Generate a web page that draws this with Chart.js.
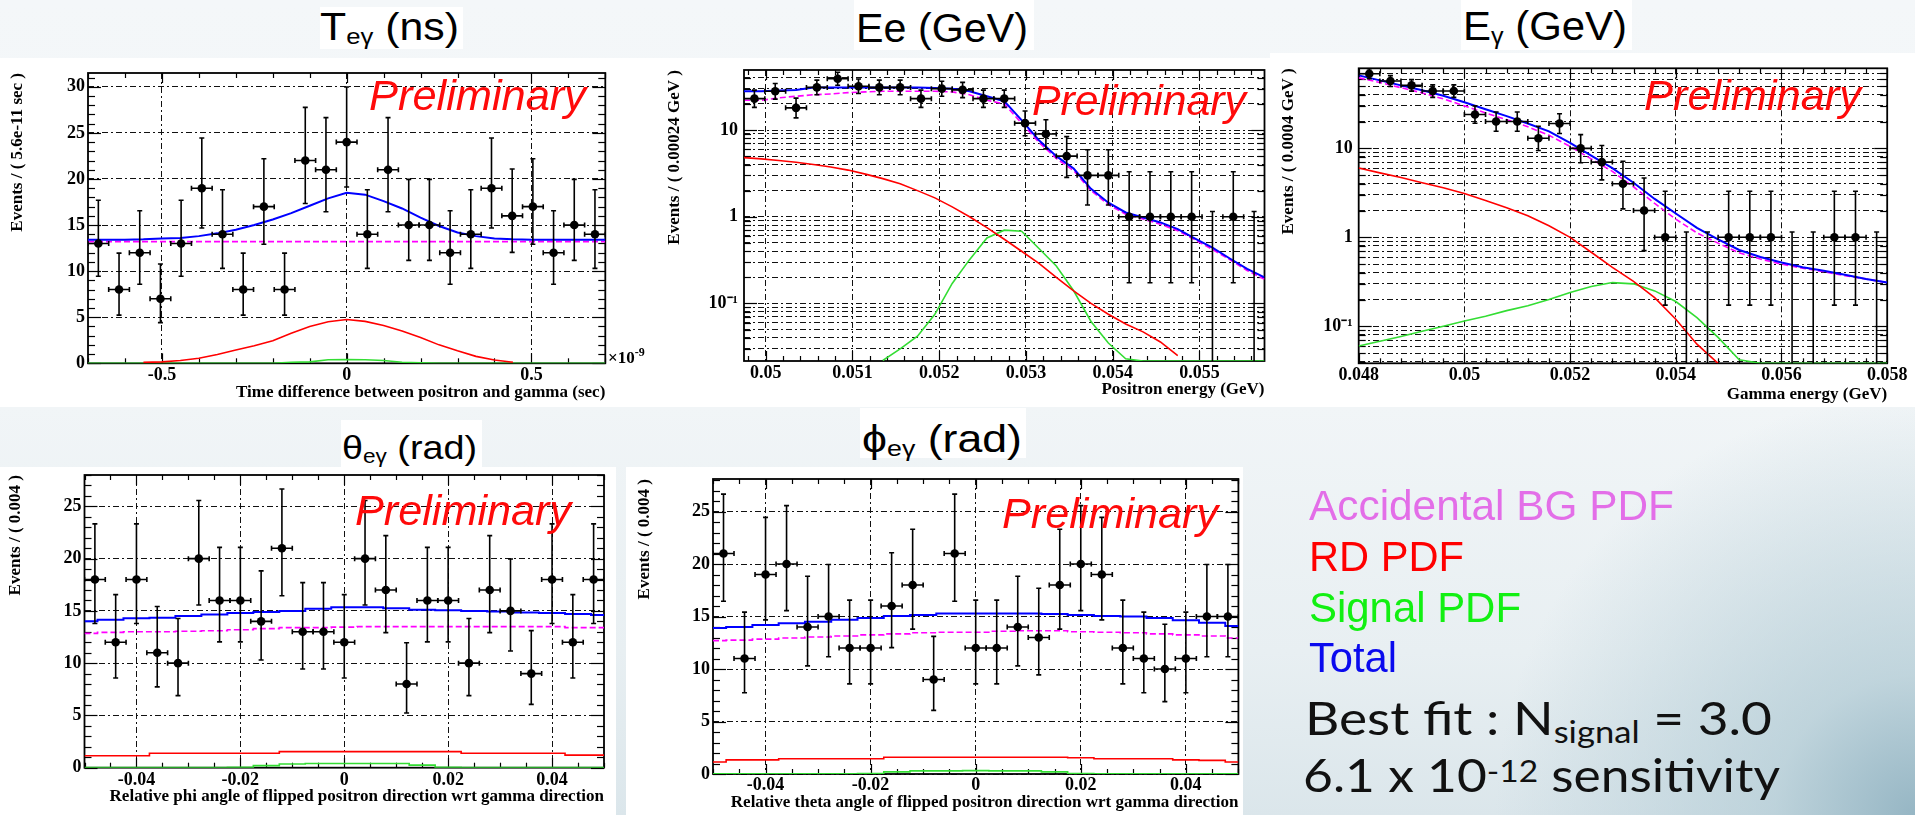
<!DOCTYPE html>
<html><head><meta charset="utf-8">
<script src="https://cdn.jsdelivr.net/npm/chart.js"></script>
<style>
html,body{margin:0;padding:0;}
body{width:1915px;height:815px;overflow:hidden;position:relative;
 background:
  radial-gradient(circle at 100% 100%, rgba(150,182,196,1) 0px, rgba(176,202,212,0.7) 140px, rgba(220,232,237,0) 420px),
  linear-gradient(180deg,#f4f7f9 0%,#f1f5f7 50%,#e8eff2 80%,#dbe6eb 100%);}
.box{position:absolute;background:#fff;}
canvas{position:absolute;}
.txt{position:absolute;white-space:nowrap;line-height:1;transform-origin:0 0;top:0;}
.title{font-family:"Liberation Sans",Arial,sans-serif;color:#000;}
.title sub{font-size:60%;vertical-align:-0.18em;line-height:0;}
.prelim{font-family:"Liberation Sans",Arial,sans-serif;font-style:italic;color:#ff0a0a;font-size:42px;}
.leg{font-family:"Liberation Sans",Arial,sans-serif;font-size:42px;}
.big{font-family:Lato,"Open Sans",sans-serif;font-weight:400;font-size:46px;color:#111;}
.big sub{font-size:65%;vertical-align:-0.27em;line-height:0;}
.big sup{font-size:65%;vertical-align:0.33em;line-height:0;}
.serif{font-family:"Liberation Serif","Times New Roman",serif;font-weight:bold;font-size:17px;color:#000;}
.serif sup{font-size:12px;vertical-align:7px;line-height:0;}
</style></head><body>

<div class="box" style="left:0;top:58px;width:1270px;height:349px"></div>
<div class="box" style="left:1270px;top:53px;width:645px;height:354px"></div>
<div class="box" style="left:0;top:467px;width:616px;height:348px"></div>
<div class="box" style="left:626px;top:467px;width:617px;height:348px"></div>

<div class="box" style="left:320px;top:7px;width:143px;height:42px"></div>
<div class="box" style="left:854px;top:0;width:180px;height:50px"></div>
<div class="box" style="left:1461px;top:0;width:171px;height:50px"></div>
<div class="box" style="left:341px;top:420px;width:141px;height:47px"></div>
<div class="box" style="left:860px;top:408px;width:166px;height:50px"></div>

<script>
// ---------------- DATA ----------------
// Poisson (68%) intervals used for the data error bars, keyed by observed count
const poissonInterval = {
  0:[0,1.148],1:[0.173,3.300],2:[0.708,4.638],3:[1.367,5.918],4:[2.086,7.163],5:[2.840,8.382],
  6:[3.620,9.584],7:[4.419,10.77],8:[5.232,11.95],9:[6.057,13.11],10:[6.891,14.27],11:[7.734,15.42],
  12:[8.585,16.56],13:[9.441,17.70],14:[10.30,18.83],15:[11.17,19.96],16:[12.04,21.08],17:[12.92,22.20],
  18:[13.80,23.32],19:[14.68,24.44],20:[15.56,25.56],21:[16.45,26.66],22:[17.34,27.77],23:[18.23,28.87],
  24:[19.13,29.98],28:[22.73,34.36],29:[23.64,35.45],30:[24.55,36.55],31:[25.46,37.64],32:[26.37,38.72],
  39:[32.78,46.30],44:[37.39,51.69],51:[43.88,59.19],57:[49.47,65.60],69:[60.71,78.35]
};

// Panel 1: T_egamma (x10^-9 s)
const teCenters = [-0.672,-0.616,-0.56,-0.504,-0.448,-0.392,-0.336,-0.28,-0.224,-0.168,-0.112,-0.056,0,0.056,0.112,0.168,0.224,0.28,0.336,0.392,0.448,0.504,0.56,0.616,0.672];
const teCounts = [13,8,12,7,13,19,14,8,17,8,22,21,24,14,21,15,15,12,14,19,16,17,12,15,14];
const teCurveX = [-0.7,-0.65,-0.6,-0.55,-0.5,-0.45,-0.4,-0.35,-0.3,-0.25,-0.2,-0.15,-0.1,-0.05,0,0.05,0.1,0.15,0.2,0.25,0.3,0.35,0.4,0.45,0.5,0.55,0.6,0.65,0.7];
const teTotal = [13.4,13.4,13.4,13.45,13.55,13.6,13.8,14.1,14.5,15.0,15.6,16.3,17.1,17.9,18.5,18.3,17.6,16.8,15.8,14.9,14.2,13.8,13.55,13.45,13.4,13.4,13.4,13.4,13.4];
const teAccidental = [13.2,13.2,13.2,13.2,13.2,13.2,13.2,13.2,13.2,13.2,13.2,13.2,13.2,13.2,13.2,13.2,13.2,13.2,13.2,13.2,13.2,13.2,13.2,13.2,13.2,13.2,13.2,13.2,13.2];
const teRD = [null,null,null,0.1,0.15,0.3,0.55,0.95,1.45,1.9,2.45,3.25,4.0,4.5,4.75,4.55,4.1,3.5,2.8,2.0,1.35,0.75,0.35,0.12,null,null,null,null,null];
const teSignal = [0,0,0,0,0,0,0,0,0,0,0,0.12,0.15,0.38,0.4,0.38,0.3,0.12,0.05,0,0,0,0,0,0,0,0,0,0];
const teXTicks = [-0.5,0,0.5];
const teXTickLabels = ['-0.5','0','0.5'];
const teYTicks = [0,5,10,15,20,25,30];

// Panel 2: Ee (GeV)
const eeCenters = [0.04987,0.05011,0.05035,0.05059,0.05083,0.05107,0.05131,0.05155,0.05179,0.05203,0.05227,0.05251,0.05275,0.05299,0.05323,0.05347,0.05371,0.05395,0.05419,0.05443,0.05467,0.05491,0.05515,0.05539,0.05563];
const eeCounts = [23,28,18,31,39,32,31,31,23,30,29,23,23,12,9,5,3,3,1,1,1,1,0,1,0];
const eeCurveX = [0.04975,0.04995,0.05015,0.05035,0.05055,0.05075,0.05095,0.05115,0.05135,0.05155,0.05175,0.05195,0.05215,0.05235,0.05255,0.05275,0.05295,0.05315,0.05335,0.05355,0.05375,0.05395,0.05415,0.05435,0.05455,0.05475,0.05495,0.05515,0.05535,0.05555,0.05575];
const eeTotal = [28,28,28.5,29,31,31,31,31,31,31,31,30.5,30,28,24.5,21.5,13,7.6,5.0,3.6,2.1,1.45,1.12,0.98,0.86,0.72,0.56,0.44,0.33,0.25,0.2];
const eeAccidental = [22,22,23.5,24.5,25.5,26,27,27.5,28,28,28,28,27.5,25.5,22,20,12,7.2,4.7,3.4,2.0,1.38,1.07,0.94,0.82,0.69,0.54,0.42,0.32,0.24,0.19];
const eeRD = [4.8,4.65,4.45,4.25,4.0,3.75,3.45,3.1,2.75,2.4,2.0,1.65,1.3,1.0,0.75,0.55,0.4,0.29,0.2,0.14,0.1,0.075,0.058,0.047,0.036,0.025,null,null,null,null,null];
const eeSignal = [null,null,null,null,null,null,null,null,0.022,0.03,0.042,0.075,0.17,0.32,0.57,0.7,0.68,0.43,0.27,0.14,0.062,0.035,0.023,0.0217,0.0217,0.0217,0.0217,0.0217,0.0217,0.0217,0.0217];
const eeXTicks = [0.05,0.051,0.052,0.053,0.054,0.055];
const eeXTickLabels = ['0.05','0.051','0.052','0.053','0.054','0.055'];

// Panel 3: Egamma (GeV)
const egCenters = [0.0482,0.0486,0.049,0.0494,0.0498,0.0502,0.0506,0.051,0.0514,0.0518,0.0522,0.0526,0.053,0.0534,0.0538,0.0542,0.0546,0.055,0.0554,0.0558,0.0562,0.0566,0.057,0.0574,0.0578];
const egCounts = [69,57,51,44,44,24,20,20,13,19,10,7,4,2,1,0,0,1,1,1,0,0,1,1,0];
const egCurveX = [0.048,0.0484,0.0488,0.0492,0.0496,0.05,0.0504,0.0508,0.0512,0.0516,0.052,0.0524,0.0528,0.0532,0.0536,0.054,0.0544,0.0548,0.0552,0.0556,0.056,0.0564,0.0568,0.0572,0.0576,0.058];
const egTotal = [66,58,51,45,39,33,27.5,23,19,15.5,11.5,8.3,6.0,4.1,2.7,1.85,1.28,0.95,0.72,0.6,0.52,0.46,0.42,0.38,0.34,0.31];
const egAccidental = [62,55,48,42,36,30,25,21,17.5,14,10.5,7.6,5.5,3.7,2.4,1.6,1.12,0.86,0.67,0.57,0.5,0.45,0.41,0.37,0.34,0.31];
const egRD = [6.0,5.3,4.7,4.1,3.6,3.1,2.6,2.15,1.75,1.35,1.0,0.68,0.46,0.32,0.21,0.12,0.063,0.0384,null,null,null,null,null,null,null,null];
const egSignal = [0.06,0.068,0.077,0.088,0.1,0.115,0.13,0.15,0.17,0.2,0.24,0.28,0.31,0.3,0.25,0.19,0.125,0.075,0.042,0.0384,0.0384,0.0384,0.0384,0.0384,0.0384,0.0384];
const egXTicks = [0.048,0.05,0.052,0.054,0.056,0.058];
const egXTickLabels = ['0.048','0.05','0.052','0.054','0.056','0.058'];

// Panel 4: theta_egamma (rad)
const angCenters = [-0.048,-0.044,-0.04,-0.036,-0.032,-0.028,-0.024,-0.02,-0.016,-0.012,-0.008,-0.004,0,0.004,0.008,0.012,0.016,0.02,0.024,0.028,0.032,0.036,0.04,0.044,0.048];
const angCurveX = [-0.05,-0.045,-0.04,-0.035,-0.03,-0.025,-0.02,-0.015,-0.01,-0.005,0,0.005,0.01,0.015,0.02,0.025,0.03,0.035,0.04,0.045,0.05];
const angXTicks = [-0.04,-0.02,0,0.02,0.04];
const angXTickLabels = ['-0.04','-0.02','0','0.02','0.04'];
const angYTicks = [0,5,10,15,20,25];
const thCounts = [18,12,18,11,10,20,16,16,14,21,13,13,12,20,17,8,16,16,10,17,15,9,18,12,18];
const thTotal = [14.0,14.15,14.3,14.35,14.5,14.65,14.8,14.9,15.0,15.2,15.35,15.35,15.25,15.1,15.05,15.0,14.95,14.85,14.8,14.7,14.6];
const thAccidental = [12.85,12.95,13.0,13.0,13.05,13.1,13.2,13.3,13.4,13.4,13.45,13.5,13.5,13.5,13.5,13.5,13.5,13.5,13.5,13.4,13.4];
const thRD = [1.15,1.15,1.15,1.38,1.38,1.38,1.38,1.38,1.54,1.54,1.54,1.54,1.54,1.54,1.54,1.38,1.38,1.38,1.38,1.2,1.2];
const thSignal = [0.02,0.02,0.02,0.02,0.02,0.02,0.05,0.2,0.35,0.4,0.4,0.4,0.4,0.25,0.05,0.02,0.02,0.02,0.02,0.02,0.02];

// Panel 5: phi_egamma (rad)
const phCounts = [21,11,19,20,14,15,12,12,16,18,9,21,12,12,14,13,18,20,19,12,11,10,11,15,15];
const phTotal = [13.9,14.0,14.2,14.35,14.5,14.7,14.85,15.05,15.15,15.3,15.3,15.3,15.3,15.25,15.15,15.05,15.0,14.85,14.65,14.4,14.1];
const phAccidental = [12.7,12.75,12.85,12.95,13.05,13.15,13.25,13.35,13.45,13.5,13.5,13.6,13.65,13.65,13.55,13.5,13.45,13.35,13.25,13.15,12.95];
const phRD = [1.15,1.35,1.35,1.45,1.45,1.45,1.45,1.6,1.6,1.6,1.6,1.6,1.6,1.6,1.55,1.45,1.45,1.45,1.35,1.3,1.15];
const phSignal = [0.02,0.02,0.02,0.02,0.02,0.02,0.05,0.2,0.3,0.3,0.32,0.3,0.3,0.2,0.05,0.02,0.02,0.02,0.02,0.02,0.02];

// ---------------- PLUGINS ----------------
const framePlugin = {
  id: 'rootFrame',
  beforeDatasetsDraw(chart, args, o) {
    const {ctx, chartArea: a, scales: {x, y}} = chart;
    ctx.save();
    ctx.strokeStyle = '#000'; ctx.lineWidth = 1.2;
    const seg = (x1, y1, x2, y2) => { ctx.beginPath(); ctx.moveTo(x1, y1); ctx.lineTo(x2, y2); ctx.stroke(); };
    const k0 = Math.ceil(x.min / o.xMinor - 1e-6), k1 = Math.floor(x.max / o.xMinor + 1e-6);
    for (let k = k0; k <= k1; k++) {
      const v = k * o.xMinor;
      const r = v / o.xMajor, major = Math.abs(r - Math.round(r)) < 1e-6;
      const L = major ? 10 : 5;
      const px = Math.round(x.getPixelForValue(v)) + 0.5;
      seg(px, a.bottom, px, a.bottom - L); seg(px, a.top, px, a.top + L);
    }
    if (o.log) {
      const e0 = Math.floor(Math.log10(y.min)), e1 = Math.ceil(Math.log10(y.max));
      for (let e = e0; e <= e1; e++) for (let m = 1; m <= 9; m++) {
        const v = m * Math.pow(10, e);
        if (v < y.min || v > y.max) continue;
        const L = m === 1 ? 13 : 7;
        const py = Math.round(y.getPixelForValue(v)) + 0.5;
        seg(a.left, py, a.left + L, py); seg(a.right, py, a.right - L, py);
      }
    } else {
      const j0 = Math.ceil(y.min / o.yMinor - 1e-6), j1 = Math.floor(y.max / o.yMinor + 1e-6);
      for (let j = j0; j <= j1; j++) {
        const v = j * o.yMinor;
        const r = v / o.yMajor, major = Math.abs(r - Math.round(r)) < 1e-6;
        const L = major ? 13 : 7;
        const py = Math.round(y.getPixelForValue(v)) + 0.5;
        seg(a.left, py, a.left + L, py); seg(a.right, py, a.right - L, py);
      }
    }
    ctx.lineWidth = 1.8;
    ctx.strokeRect(a.left, a.top, a.right - a.left, a.bottom - a.top);
    ctx.restore();
  }
};

const errorBarPlugin = {
  id: 'errorBars',
  afterDatasetsDraw(chart, args, o) {
    const {ctx, chartArea: a, scales: {x, y}} = chart;
    ctx.save();
    ctx.beginPath(); ctx.rect(a.left, a.top - 1, a.right - a.left, a.bottom - a.top + 1); ctx.clip();
    ctx.strokeStyle = '#000'; ctx.lineWidth = 1.6;
    const seg = (x1, y1, x2, y2) => { ctx.beginPath(); ctx.moveTo(x1, y1); ctx.lineTo(x2, y2); ctx.stroke(); };
    o.centers.forEach((c, i) => {
      const n = o.counts[i];
      const [lo, hi] = poissonInterval[n];
      const px = x.getPixelForValue(c);
      const pHi = y.getPixelForValue(hi);
      const pLo = lo > 0 ? y.getPixelForValue(lo) : a.bottom + 3;
      seg(px, pLo, px, pHi);
      seg(px - 2.5, pHi, px + 2.5, pHi);
      if (lo > 0) seg(px - 2.5, pLo, px + 2.5, pLo);
      if (n > 0) {
        const py = y.getPixelForValue(n);
        const xl = x.getPixelForValue(c - o.halfWidth), xr = x.getPixelForValue(c + o.halfWidth);
        seg(xl, py, xr, py);
        seg(xl, py - 2.5, xl, py + 2.5); seg(xr, py - 2.5, xr, py + 2.5);
      }
    });
    ctx.restore();
  }
};

// ---------------- PANELS ----------------
const serifFont = {family: "'Liberation Serif','Times New Roman',serif", weight: 'bold', size: 17};
const tickFont = {family: "'Liberation Serif','Times New Roman',serif", weight: 'bold', size: 18};
const decadeLabel = v => {
  const e = Math.round(Math.log10(v));
  if (Math.abs(Math.log10(v) - e) > 1e-6) return '';
  if (e === 0) return '1';
  if (e === 1) return '10';
  if (e === -1) return '10\u207B\u00B9';
  return '10^' + e;
};

function makePanel(p) {
  const [bx, by, bw, bh] = p.box;
  const [L, T, R, B] = p.area;
  const cv = document.createElement('canvas');
  cv.width = bw; cv.height = bh;
  cv.style.left = bx + 'px'; cv.style.top = by + 'px';
  cv.style.width = bw + 'px'; cv.style.height = bh + 'px';
  document.body.appendChild(cv);
  const yw = L - bx, xh = by + bh - B;
  const line = (xs, ys, color, width, dash) => ({
    type: 'line', data: xs.map((x, i) => ({x, y: ys[i]})), borderColor: color, borderWidth: width,
    borderDash: dash || [], pointRadius: 0, stepped: p.stepped, fill: false, spanGaps: false, tension: 0
  });
  const datasets = [
    {type: 'scatter', data: p.centers.map((x, i) => ({x, y: p.counts[i] > 0 ? p.counts[i] : null})),
     pointRadius: 4.3, pointBackgroundColor: '#000', pointBorderColor: '#000', pointBorderWidth: 0, showLine: false},
    line(p.curveX, p.total, '#0000ff', 2),
    line(p.curveX, p.rd, '#ff0000', 1.6),
    line(p.curveX, p.signal, '#33dd33', 1.6),
    line(p.curveX, p.accidental, '#ff00ff', 1.6, [6, 3])
  ];
  const yTicksFor = s => {
    if (p.log) {
      const t = [];
      const e0 = Math.floor(Math.log10(p.yMin)), e1 = Math.ceil(Math.log10(p.yMax));
      for (let e = e0; e <= e1; e++) for (let m = 1; m <= 9; m++) {
        const v = m * Math.pow(10, e);
        if (v > p.yMin && v < p.yMax) t.push({value: v});
      }
      s.ticks = t;
    } else {
      s.ticks = p.yTicks.map(v => ({value: v}));
    }
  };
  new Chart(cv, {
    type: 'scatter',
    data: {datasets},
    options: {
      responsive: false, animation: false, devicePixelRatio: 1, events: [],
      layout: {padding: {left: 0, top: T - by, right: bx + bw - R, bottom: 0}},
      plugins: {
        legend: {display: false}, tooltip: {enabled: false},
        rootFrame: {xMinor: p.xMinor, xMajor: p.xMajor, yMinor: p.yMinor, yMajor: p.yMajor, log: p.log},
        errorBars: {centers: p.centers, counts: p.counts, halfWidth: p.halfWidth}
      },
      scales: {
        x: {
          type: 'linear', position: 'bottom', min: p.xMin, max: p.xMax,
          afterBuildTicks: s => { s.ticks = p.xTicks.map(v => ({value: v})); },
          afterFit: s => { s.height = xh; s.paddingLeft = 0; s.paddingRight = 0; },
          ticks: {autoSkip: false, maxRotation: 0, minRotation: 0, padding: p.xLabelPad, color: '#000', font: tickFont,
                  callback: (v, i) => p.xTickLabels[i]},
          grid: {color: '#111', lineWidth: 1, drawTicks: false},
          border: {display: false, dash: [6, 3, 2, 3]},
          title: {display: true, text: p.xTitle, align: 'end', color: '#000', font: serifFont, padding: {top: 0, bottom: p.xTitlePad}}
        },
        y: {
          type: p.log ? 'logarithmic' : 'linear', position: 'left', min: p.yMin, max: p.yMax,
          afterBuildTicks: yTicksFor,
          afterFit: s => { s.width = yw; s.paddingTop = 0; s.paddingBottom = 0; },
          ticks: {autoSkip: false, padding: p.yLabelPad, color: '#000', font: tickFont,
                  callback: v => p.log ? decadeLabel(v) : String(v)},
          grid: {color: '#111', lineWidth: 1, drawTicks: false},
          border: {display: false, dash: [6, 3, 2, 3]},
          title: {display: true, text: p.yTitle, align: 'end', color: '#000', font: serifFont, padding: {top: p.yTitlePad, bottom: 0}}
        }
      }
    },
    plugins: [framePlugin, errorBarPlugin]
  });
}

makePanel({box: [0, 58, 658, 349], area: [88, 73, 605.3, 363.3], stepped: false,
  centers: teCenters, counts: teCounts, halfWidth: 0.028,
  curveX: teCurveX, total: teTotal, accidental: teAccidental, rd: teRD, signal: teSignal,
  xMin: -0.7, xMax: 0.7, xTicks: teXTicks, xTickLabels: teXTickLabels, xMinor: 0.1, xMajor: 0.5,
  yMin: 0, yMax: 31.5, yTicks: teYTicks, yMinor: 1, yMajor: 5, log: false,
  xTitle: 'Time difference between positron and gamma (sec)', yTitle: 'Events / ( 5.6e-11 sec )',
  xLabelPad: 1.5, yLabelPad: 3, xTitlePad: 3.8, yTitlePad: 7.8});

makePanel({box: [658, 58, 612, 349], area: [744, 70, 1264.5, 361], stepped: false,
  centers: eeCenters, counts: eeCounts, halfWidth: 0.00012,
  curveX: eeCurveX, total: eeTotal, accidental: eeAccidental, rd: eeRD, signal: eeSignal,
  xMin: 0.04975, xMax: 0.05575, xTicks: eeXTicks, xTickLabels: eeXTickLabels, xMinor: 0.0002, xMajor: 0.001,
  yMin: 0.0217, yMax: 49.2, log: true,
  xTitle: 'Positron energy (GeV)', yTitle: 'Events / ( 0.00024 GeV )',
  xLabelPad: 1.5, yLabelPad: 6, xTitlePad: 6.8, yTitlePad: 6.8});

makePanel({box: [1270, 53, 645, 354], area: [1358.7, 68.3, 1887.2, 363.3], stepped: false,
  centers: egCenters, counts: egCounts, halfWidth: 0.0002,
  curveX: egCurveX, total: egTotal, accidental: egAccidental, rd: egRD, signal: egSignal,
  xMin: 0.048, xMax: 0.058, xTicks: egXTicks, xTickLabels: egXTickLabels, xMinor: 0.0004, xMajor: 0.002,
  yMin: 0.0384, yMax: 79.3, log: true,
  xTitle: 'Gamma energy (GeV)', yTitle: 'Events / ( 0.0004 GeV )',
  xLabelPad: 1.5, yLabelPad: 6, xTitlePad: 1.8, yTitlePad: 8.8});

makePanel({box: [0, 467, 616, 348], area: [84.5, 475, 604, 767.7], stepped: 'middle',
  centers: angCenters, counts: thCounts, halfWidth: 0.002,
  curveX: angCurveX, total: thTotal, accidental: thAccidental, rd: thRD, signal: thSignal,
  xMin: -0.05, xMax: 0.05, xTicks: angXTicks, xTickLabels: angXTickLabels, xMinor: 0.005, xMajor: 0.02,
  yMin: 0, yMax: 28.0, yTicks: angYTicks, yMinor: 1, yMajor: 5, log: false,
  xTitle: 'Relative phi angle of flipped positron direction wrt gamma direction', yTitle: 'Events / ( 0.004 )',
  xLabelPad: 1.5, yLabelPad: 3, xTitlePad: 7.8, yTitlePad: 5.8});

makePanel({box: [626, 467, 617, 348], area: [713, 479, 1238.4, 774], stepped: 'middle',
  centers: angCenters, counts: phCounts, halfWidth: 0.002,
  curveX: angCurveX, total: phTotal, accidental: phAccidental, rd: phRD, signal: phSignal,
  xMin: -0.05, xMax: 0.05, xTicks: angXTicks, xTickLabels: angXTickLabels, xMinor: 0.005, xMajor: 0.02,
  yMin: 0, yMax: 28.1, yTicks: angYTicks, yMinor: 1, yMajor: 5, log: false,
  xTitle: 'Relative theta angle of flipped positron direction wrt gamma direction', yTitle: 'Events / ( 0.004 )',
  xLabelPad: 0.5, yLabelPad: 3, xTitlePad: 1.8, yTitlePad: 8.3});
</script>

<div class="txt serif" data-x="608" data-base="363">×10<sup>-9</sup></div>

<div class="txt title" style="font-size:38px" data-x="320" data-base="40" data-w="139">T<sub>eγ</sub> (ns)</div>
<div class="txt title" style="font-size:40px" data-x="856" data-base="42" data-w="172">Ee (GeV)</div>
<div class="txt title" style="font-size:40px" data-x="1463" data-base="40" data-w="164">E<sub>γ</sub> (GeV)</div>
<div class="txt title" style="font-size:34px" data-x="342" data-base="459" data-w="135">θ<sub>eγ</sub> (rad)</div>
<div class="txt title" style="font-size:38px" data-x="862" data-base="452" data-w="160">ϕ<sub>eγ</sub> (rad)</div>

<div class="txt prelim" data-x="369" data-base="110" data-w="217">Preliminary</div>
<div class="txt prelim" data-x="1032" data-base="115" data-w="214">Preliminary</div>
<div class="txt prelim" data-x="1644" data-base="110" data-w="217">Preliminary</div>
<div class="txt prelim" data-x="355" data-base="525" data-w="216">Preliminary</div>
<div class="txt prelim" data-x="1002" data-base="528" data-w="216">Preliminary</div>

<div class="txt leg" style="color:#e36ee8" data-x="1309" data-base="520" data-w="365">Accidental BG PDF</div>
<div class="txt leg" style="color:#ff0000" data-x="1309" data-base="571" data-w="155">RD PDF</div>
<div class="txt leg" style="color:#12f012" data-x="1309" data-base="622" data-w="212">Signal PDF</div>
<div class="txt leg" style="color:#0a0aee" data-x="1309" data-base="672" data-w="88">Total</div>
<div class="txt big" data-x="1305" data-base="735" data-w="467">Best fit : N<sub>signal</sub> = 3.0</div>
<div class="txt big" data-x="1303" data-base="792" data-w="477">6.1 x 10<sup>-12</sup> sensitivity</div>

<script>
document.querySelectorAll('.txt').forEach(el => {
  const x = +el.dataset.x, base = +el.dataset.base, w = el.dataset.w ? +el.dataset.w : 0;
  el.style.left = x + 'px'; el.style.top = '0px';
  const m = document.createElement('span');
  m.style.cssText = 'display:inline-block;width:0;height:0;vertical-align:baseline;';
  el.appendChild(m);
  const er = el.getBoundingClientRect(), mr = m.getBoundingClientRect();
  el.style.top = (base - (mr.top - er.top)) + 'px';
  if (w) el.style.transform = 'scaleX(' + (w / er.width) + ')';
});
</script>
</body></html>
